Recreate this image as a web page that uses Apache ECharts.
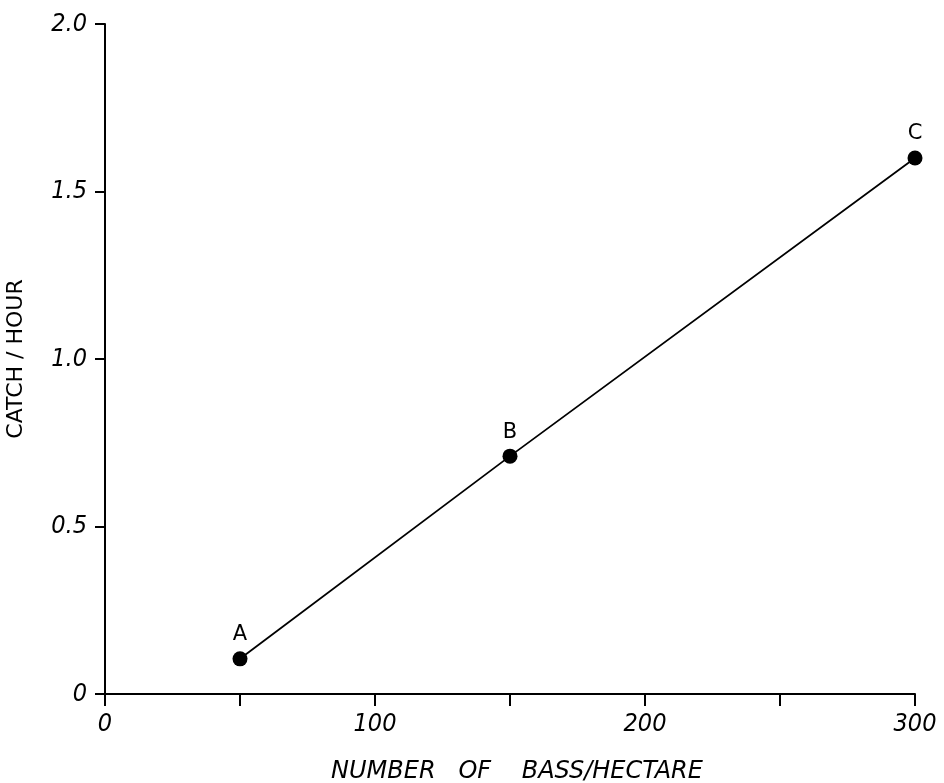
<!DOCTYPE html>
<html>
<head>
<meta charset="utf-8">
<script src="https://cdn.jsdelivr.net/npm/echarts@6/dist/echarts.min.js"></script>
<style>
  html, body { margin: 0; padding: 0; background: #fff; }
  #main { width: 944px; height: 783px; }
</style>
</head>
<body>
<div id="main"></div>
<script>
// data
var pointNames = ['A', 'B', 'C'];
var bassPerHectare = [50, 150, 300];
var catchPerHour = [0.105, 0.71, 1.6];

var chart = echarts.init(document.getElementById('main'));

var seriesData = [];
for (var i = 0; i < pointNames.length; i++) {
    seriesData.push({ name: pointNames[i], value: [bassPerHectare[i], catchPerHour[i]] });
}

var narrow = "'Liberation Sans Narrow', 'DejaVu Sans Condensed', sans-serif";

var option = {
    backgroundColor: '#fff',
    animation: false,
    grid: { left: 105, right: 29, top: 24, bottom: 89, containLabel: false, outerBoundsMode: 'none' },
    xAxis: {
        type: 'value',
        min: 0,
        max: 300,
        interval: 50,
        name: 'NUMBER   OF    BASS/HECTARE',
        nameLocation: 'middle',
        nameGap: 66,
        nameTextStyle: { color: '#000', fontSize: 24, fontStyle: 'italic', fontFamily: 'DejaVu Sans', padding: [0, 0, 0, 14] },
        axisLine: { lineStyle: { color: '#000', width: 2 } },
        axisTick: { inside: false, length: 12, lineStyle: { color: '#000', width: 2 } },
        axisLabel: {
            margin: 18,
            color: '#000',
            fontSize: 25,
            fontStyle: 'italic',
            fontFamily: narrow,
            formatter: function (v) { return v % 100 === 0 ? String(v) : ''; }
        },
        splitLine: { show: false }
    },
    yAxis: {
        type: 'value',
        min: 0,
        max: 2,
        interval: 0.5,
        name: 'CATCH / HOUR',
        nameLocation: 'middle',
        nameRotate: 90,
        nameGap: 78,
        nameTextStyle: { color: '#000', fontSize: 22, fontFamily: 'DejaVu Sans' },
        axisLine: { lineStyle: { color: '#000', width: 2 } },
        axisTick: { inside: false, length: 10, lineStyle: { color: '#000', width: 2 } },
        axisLabel: {
            margin: 18,
            color: '#000',
            fontSize: 25,
            fontStyle: 'italic',
            fontFamily: narrow,
            formatter: function (v) { return v === 0 ? '0' : v.toFixed(1); }
        },
        splitLine: { show: false }
    },
    series: [{
        type: 'line',
        data: seriesData,
        symbol: 'circle',
        symbolSize: 15,
        itemStyle: { color: '#000' },
        lineStyle: { color: '#000', width: 1.8 },
        label: {
            show: true,
            position: 'top',
            distance: 6,
            formatter: '{b}',
            color: '#000',
            fontSize: 21,
            fontFamily: 'DejaVu Sans'
        }
    }]
};

chart.setOption(option);
</script>
</body>
</html>
